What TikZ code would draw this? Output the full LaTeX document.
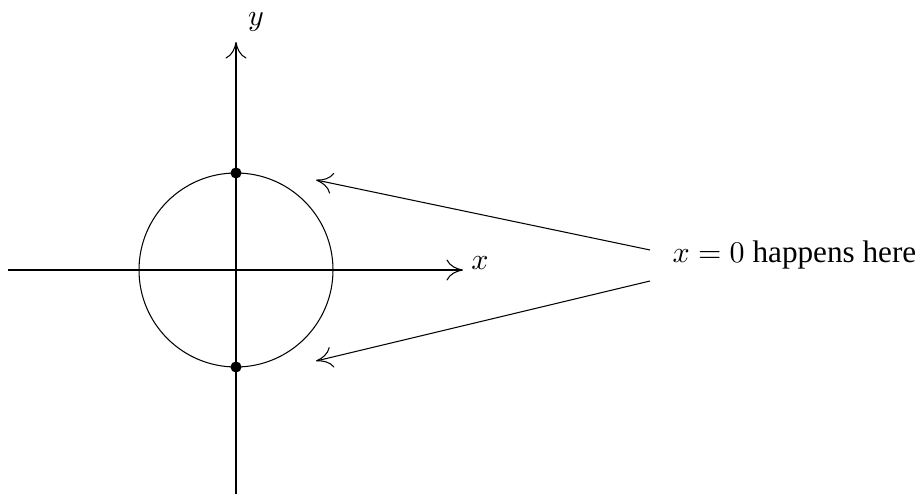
\documentclass[tikz,border=0pt]{standalone}
\usepackage{fontspec}
\setmainfont{Liberation Serif}
\usetikzlibrary{arrows.meta}
\begin{document}
\begin{tikzpicture}[x=0.3333pt,y=-0.3333pt,
  axisline/.style={line width=0.35pt,-{To[length=5.5pt,width=7pt]}},
  pointer/.style={line width=0.35pt,-{To[length=5.5pt,width=7pt]}},
  dot/.style={circle,fill=black,inner sep=0pt,minimum size=3.7pt},
  lbl/.style={inner sep=0pt,font=\fontsize{10.4pt}{12.5pt}\selectfont}]
\useasboundingbox (0,0) rectangle (923,494);
\coordinate (O) at (236,270);
\coordinate (xs) at (8,270);
\coordinate (xe) at (463,270);
\coordinate (ys) at (236,500);
\coordinate (ye) at (236,42);
\draw[axisline] (xs) -- (xe);
\draw[axisline] (ys) -- (ye);
\node[lbl] (xl) at (480,263) {$x$};
\node[lbl] (yl) at (256,22) {$y$};
\draw[line width=0.35pt] (O) circle[radius=97];
\node[dot] (top) at (236,173) {};
\node[dot] (bot) at (236,367) {};
\node[lbl,anchor=base west] (note) at (672,263) {$x=0$ happens here};
\coordinate (s1) at (650,250);
\coordinate (s2) at (650,281);
\coordinate (t1) at (316,180);
\coordinate (t2) at (316,361);
\draw[pointer] (s1) -- (t1);
\draw[pointer] (s2) -- (t2);
\end{tikzpicture}
\end{document}
